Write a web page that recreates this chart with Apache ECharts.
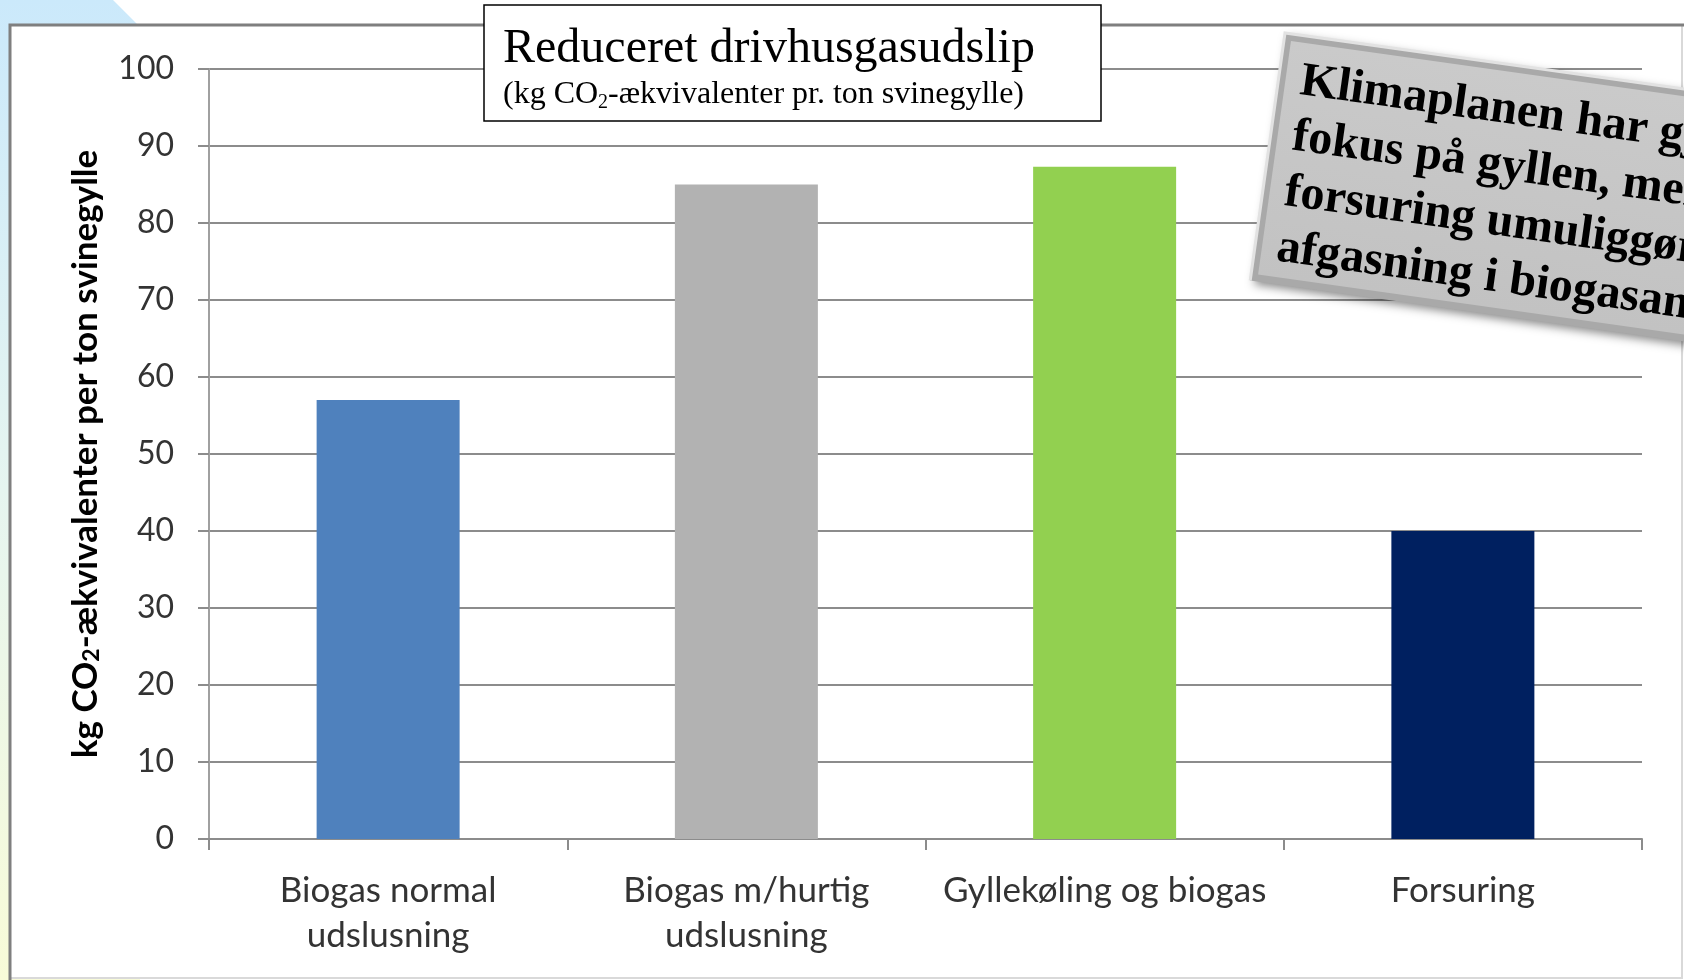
<!DOCTYPE html>
<html>
<head>
<meta charset="utf-8">
<title>Reduceret drivhusgasudslip</title>
<script src="https://cdn.jsdelivr.net/npm/echarts@6/dist/echarts.min.js"></script>
<style>
html, body { margin: 0; padding: 0; background: #ffffff; }
#main { width: 1684px; height: 980px; }
</style>
</head>
<body>
<div id="main"></div>
<script>
var categories = ['Biogas normal\nudslusning', 'Biogas m/hurtig\nudslusning', 'Gyllekøling og biogas', 'Forsuring'];
var values = [57, 85, 87.3, 40];
var barColors = ['#4f81bd', '#b2b2b2', '#92d050', '#002060'];
var yTicks = [0, 10, 20, 30, 40, 50, 60, 70, 80, 90, 100];

var myChart = echarts.init(document.getElementById('main'));

var boxRot = -8 * Math.PI / 180;

var option = {
    backgroundColor: '#ffffff',
    animation: false,
    grid: {
        left: 209,
        right: 42,
        top: 69,
        bottom: 141
    },
    xAxis: {
        type: 'category',
        data: categories,
        axisLine: { lineStyle: { color: '#8c8c8c', width: 2 } },
        axisTick: { show: true, length: 11, lineStyle: { color: '#8c8c8c', width: 2 } },
        axisLabel: {
            margin: 29,
            color: '#333333',
            fontFamily: 'Lato',
            fontSize: 35,
            lineHeight: 45,
            interval: 0
        }
    },
    yAxis: {
        type: 'value',
        min: yTicks[0],
        max: yTicks[yTicks.length - 1],
        interval: 10,
        name: 'kg CO{sub|2}-ækvivalenter per ton svinegylle',
        nameLocation: 'middle',
        nameGap: 106,
        nameTextStyle: {
            color: '#000000',
            fontFamily: 'Lato',
            fontWeight: 'bold',
            fontSize: 35,
            rich: {
                sub: { fontFamily: 'Lato', fontWeight: 'bold', fontSize: 23, lineHeight: 16, verticalAlign: 'bottom' }
            }
        },
        axisLine: { show: true, lineStyle: { color: '#a0a0a0', width: 2 } },
        axisTick: { show: true, length: 11, lineStyle: { color: '#8c8c8c', width: 2 } },
        axisLabel: {
            margin: 35,
            color: '#333333',
            fontFamily: 'Lato',
            fontSize: 32
        },
        splitLine: { lineStyle: { color: '#8c8c8c', width: 2 } }
    },
    series: [
        {
            type: 'bar',
            data: values.map(function (v, i) {
                return { value: v, itemStyle: { color: barColors[i] } };
            }),
            barWidth: 143
        }
    ],
    graphic: [
        // baggrund i venstre side
        {
            type: 'polygon',
            z: -10,
            shape: { points: [[0, 0], [113, 0], [140, 27], [140, 980], [0, 980]] },
            style: {
                fill: new echarts.graphic.LinearGradient(0, 0, 0, 1, [
                    { offset: 0, color: '#cbe9fb' },
                    { offset: 0.5, color: '#e6f5f0' },
                    { offset: 1, color: '#f8fbd8' }
                ])
            }
        },
        {
            type: 'rect',
            z: -9,
            shape: { x: 10, y: 25, width: 1672, height: 953 },
            style: { fill: '#ffffff', stroke: '#d9d9d9', lineWidth: 2 }
        },
        {
            type: 'polyline',
            z: -8,
            shape: { points: [[10, 980], [10, 25], [1684, 25]] },
            style: { stroke: '#7f7f7f', lineWidth: 3, fill: null }
        },
        // titelboks
        {
            type: 'rect',
            z: 100,
            shape: { x: 484, y: 5, width: 617, height: 116 },
            style: { fill: '#ffffff', stroke: '#000000', lineWidth: 1.5 }
        },
        {
            type: 'text',
            z: 101,
            x: 503,
            y: 25,
            style: {
                text: 'Reduceret drivhusgasudslip',
                fontFamily: 'Liberation Serif',
                fontSize: 48,
                fill: '#000000'
            }
        },
        {
            type: 'text',
            z: 101,
            x: 503,
            y: 77,
            style: {
                text: '(kg CO{sub|2}-ækvivalenter pr. ton svinegylle)',
                fontFamily: 'Liberation Serif',
                fontSize: 32,
                lineHeight: 36,
                fill: '#000000',
                rich: {
                    sub: { fontFamily: 'Liberation Serif', fontSize: 20, lineHeight: 14, verticalAlign: 'bottom', fill: '#000000' }
                }
            }
        },
        // skrå grå boks
        {
            type: 'group',
            z: 100,
            x: 1285,
            y: 33,
            rotation: boxRot,
            children: [
                {
                    type: 'rect',
                    z: 100,
                    shape: { x: 0, y: 0, width: 520, height: 250 },
                    style: {
                        fill: '#a9a9a9',
                        shadowBlur: 10,
                        shadowOffsetX: 4,
                        shadowOffsetY: 4,
                        shadowColor: 'rgba(0,0,0,0.45)'
                    }
                },
                {
                    type: 'rect',
                    z: 101,
                    shape: { x: 7, y: 7, width: 520, height: 236 },
                    style: {
                        fill: new echarts.graphic.LinearGradient(0, 0, 0, 1, [
                            { offset: 0, color: '#cacaca' },
                            { offset: 1, color: '#c2c2c2' }
                        ])
                    }
                },
                {
                    type: 'polyline',
                    z: 101,
                    shape: { points: [[0, 250], [0, 0], [540, 0]] },
                    style: { stroke: '#e2e2e2', lineWidth: 3, fill: null }
                },
                {
                    type: 'text',
                    z: 102,
                    x: 22,
                    y: 18,
                    style: {
                        text: 'Klimaplanen har gjort\nfokus på gyllen, men\nforsuring umuliggør\nafgasning i biogasanlæg',
                        fontFamily: 'Liberation Serif',
                        fontWeight: 'bold',
                        fontSize: 48,
                        lineHeight: 56,
                        fill: '#000000'
                    }
                }
            ]
        }
    ]
};

myChart.setOption(option);
</script>
</body>
</html>
